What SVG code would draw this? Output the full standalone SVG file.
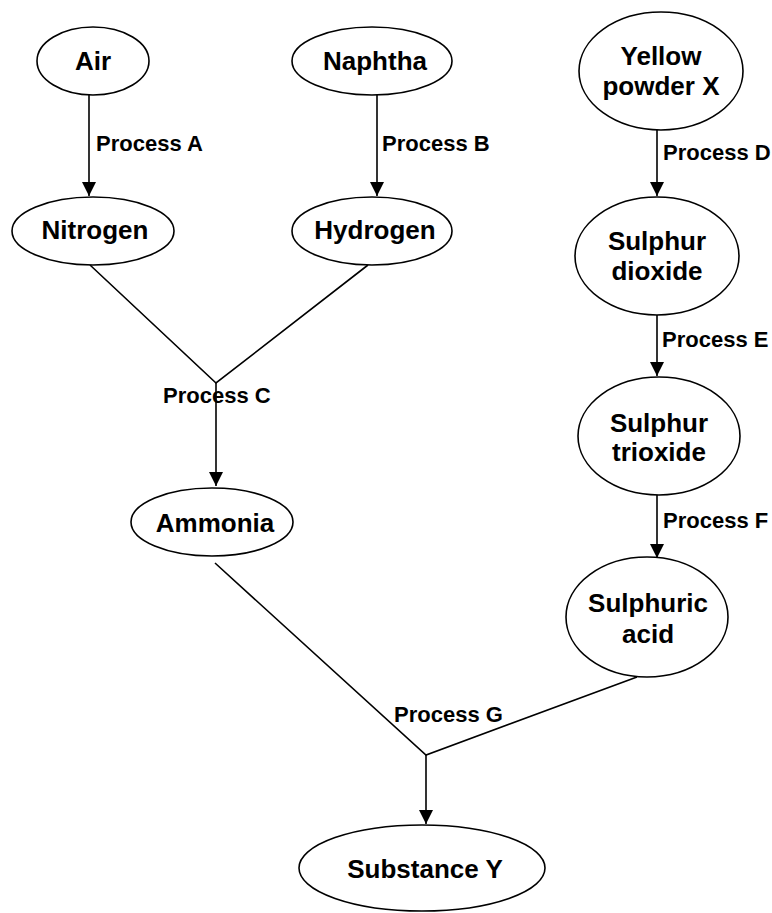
<svg xmlns="http://www.w3.org/2000/svg" width="772" height="913" viewBox="0 0 772 913">
<style>
.n{fill:#fff;stroke:#000;stroke-width:1.6}
.t{font-family:"Liberation Sans",Arial,sans-serif;font-weight:bold;font-size:26px;text-anchor:middle;fill:#000}
.l{font-family:"Liberation Sans",Arial,sans-serif;font-weight:bold;font-size:22px;fill:#000}
.c{fill:none;stroke:#000;stroke-width:1.6}
</style>
<defs>
<marker id="ah" markerUnits="userSpaceOnUse" markerWidth="16" markerHeight="16" viewBox="0 0 16 16" refX="14" refY="8" orient="auto">
<path d="M0,1 L14,8 L0,15 Z" fill="#000"/>
</marker>
</defs>
<rect width="772" height="913" fill="#fff"/>
<g id="connectors">
<line class="c" x1="89" y1="95" x2="89" y2="196" marker-end="url(#ah)"/>
<line class="c" x1="377" y1="95" x2="377" y2="196" marker-end="url(#ah)"/>
<line class="c" x1="657" y1="130" x2="657" y2="196" marker-end="url(#ah)"/>
<line class="c" x1="657" y1="315" x2="657" y2="376" marker-end="url(#ah)"/>
<line class="c" x1="657" y1="495" x2="657" y2="558" marker-end="url(#ah)"/>
<polyline class="c" points="90,265 216,383 368,265"/>
<line class="c" x1="216" y1="383" x2="216" y2="486" marker-end="url(#ah)"/>
<polyline class="c" points="215,563 426,755 637,677"/>
<line class="c" x1="426" y1="755" x2="426" y2="824" marker-end="url(#ah)"/>
<text class="l" x="96" y="151">Process A</text>
<text class="l" x="382" y="151">Process B</text>
<text class="l" x="663" y="160">Process D</text>
<text class="l" x="662" y="347">Process E</text>
<text class="l" x="663" y="528">Process F</text>
<text class="l" x="163" y="403">Process C</text>
<text class="l" x="394" y="722">Process G</text>
</g>
<g id="air"><ellipse class="n" cx="93" cy="61" rx="56" ry="34"/><text class="t" x="93" y="70">Air</text></g>
<g id="naphtha"><ellipse class="n" cx="372" cy="61" rx="80" ry="34"/><text class="t" x="375" y="70">Naphtha</text></g>
<g id="yellow"><ellipse class="n" cx="661" cy="71" rx="82" ry="59"/><text class="t" x="661" y="65">Yellow</text><text class="t" x="661" y="95">powder X</text></g>
<g id="nitrogen"><ellipse class="n" cx="93" cy="231" rx="81" ry="34"/><text class="t" x="95" y="239">Nitrogen</text></g>
<g id="hydrogen"><ellipse class="n" cx="372" cy="231" rx="80" ry="34"/><text class="t" x="375" y="239">Hydrogen</text></g>
<g id="so2"><ellipse class="n" cx="657" cy="256" rx="82" ry="59"/><text class="t" x="657" y="250">Sulphur</text><text class="t" x="657" y="280">dioxide</text></g>
<g id="so3"><ellipse class="n" cx="659" cy="436" rx="81" ry="59"/><text class="t" x="659" y="432">Sulphur</text><text class="t" x="659" y="461">trioxide</text></g>
<g id="ammonia"><ellipse class="n" cx="212" cy="522" rx="81" ry="34"/><text class="t" x="215" y="532">Ammonia</text></g>
<g id="acid"><ellipse class="n" cx="647" cy="617" rx="81" ry="60"/><text class="t" x="648" y="612">Sulphuric</text><text class="t" x="648" y="643">acid</text></g>
<g id="substance"><ellipse class="n" cx="422" cy="868" rx="123" ry="43"/><text class="t" x="425" y="878">Substance Y</text></g>
</svg>
